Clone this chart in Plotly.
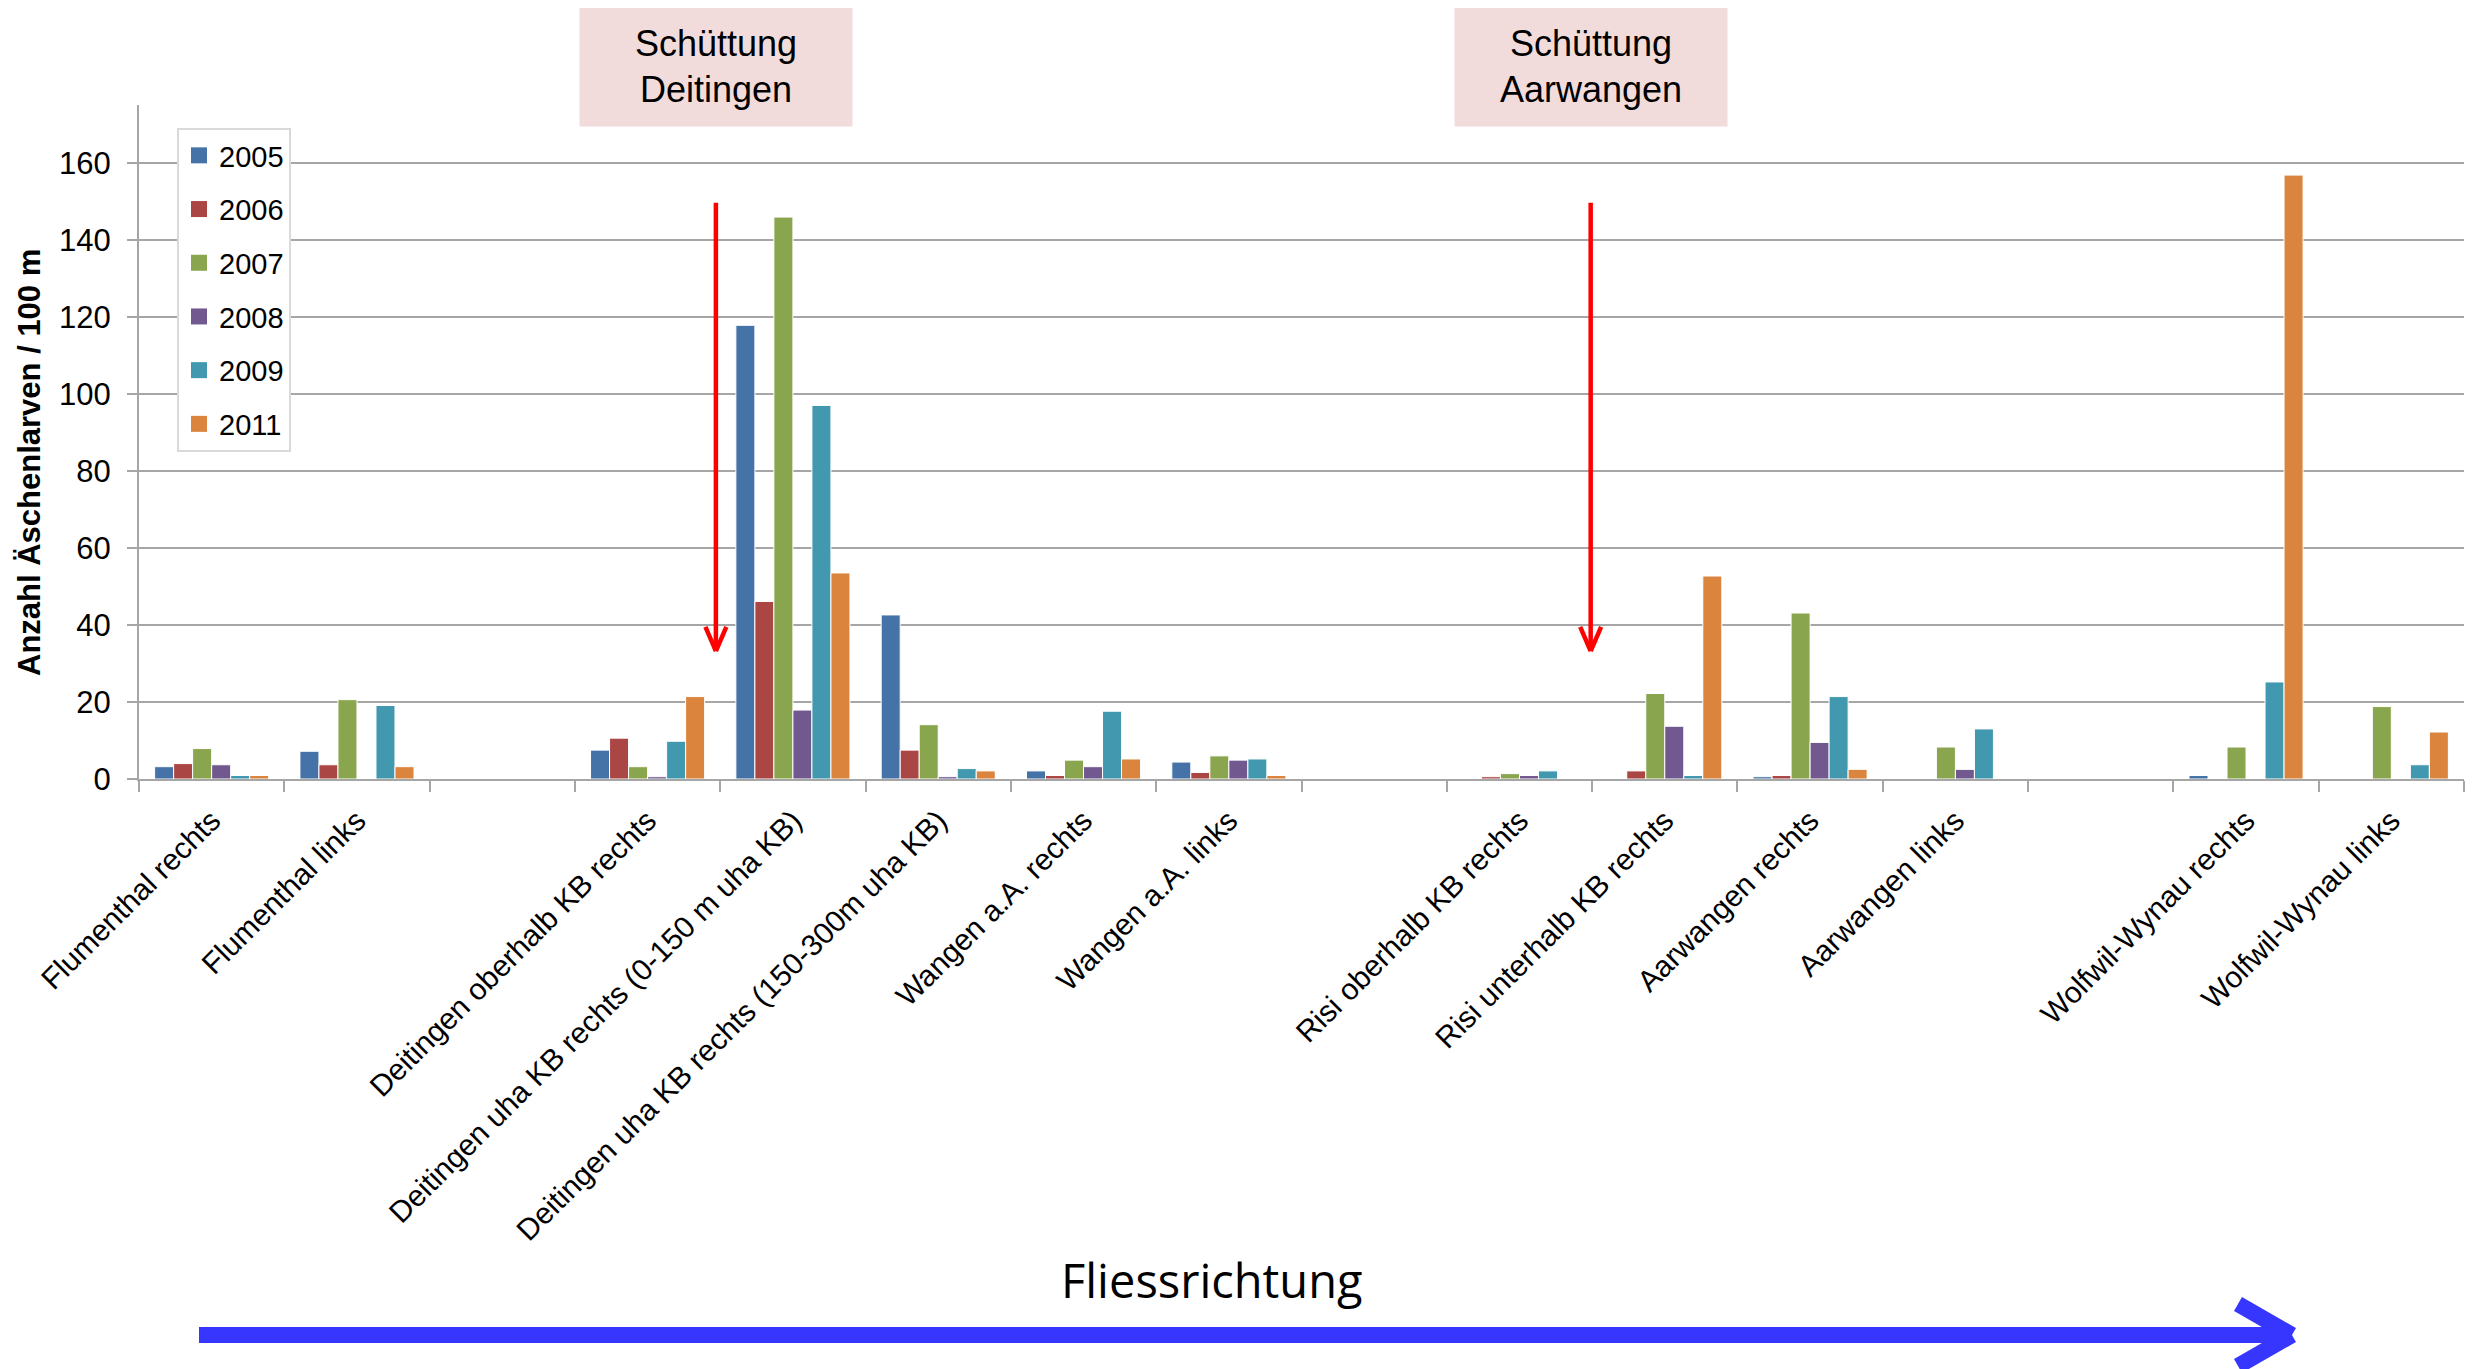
import plotly.graph_objects as go

# ---------------- data ----------------
categories = [
    "Flumenthal rechts", "Flumenthal links", " ",
    "Deitingen oberhalb KB rechts",
    "Deitingen uha KB rechts (0-150 m uha KB)",
    "Deitingen uha KB rechts (150-300m uha KB)",
    "Wangen a.A. rechts", "Wangen a.A. links", "  ",
    "Risi oberhalb KB rechts", "Risi unterhalb KB rechts",
    "Aarwangen rechts", "Aarwangen links", "   ",
    "Wolfwil-Wynau rechts", "Wolfwil-Wynau links",
]
years = ["2005", "2006", "2007", "2008", "2009", "2011"]
v2005 = [3.2, 7.2, None, 7.5, 117.8, 42.6, 2.1, 4.4, None, 0, 0, 0.6, 0, None, 0.9, 0]
v2006 = [4.0, 3.7, None, 10.6, 46.1, 7.5, 0.9, 1.7, None, 0.6, 2.1, 0.9, 0, None, 0, 0]
v2007 = [7.9, 20.6, None, 3.2, 145.9, 14.1, 4.9, 6.0, None, 1.4, 22.2, 43.1, 8.3, None, 8.3, 18.8]
v2008 = [3.7, 0, None, 0.6, 17.9, 0.6, 3.2, 4.9, None, 0.9, 13.7, 9.5, 2.5, None, 0, 0]
v2009 = [0.9, 19.1, None, 9.8, 97.0, 2.7, 17.6, 5.2, None, 2.1, 0.9, 21.4, 13.0, None, 25.2, 3.7]
v2011 = [0.9, 3.2, None, 21.4, 53.5, 2.1, 5.2, 0.9, None, 0, 52.7, 2.5, 0, None, 156.8, 12.2]
series = [v2005, v2006, v2007, v2008, v2009, v2011]
colors = ["#4572A7", "#AA4643", "#89A54E", "#71588F", "#4198AF", "#DB843D"]

y_ticks = [0, 20, 40, 60, 80, 100, 120, 140, 160]
y_title = "Anzahl Äschenlarven / 100 m"
events = [("Schüttung<br>Deitingen", 3.47), ("Schüttung<br>Aarwangen", 9.49)]

# ---------------- layout geometry (page pixels) ----------------
W, H = 2479, 1369
OFF = 8                      # default body margin of the html page
PX0, PX1, PY0, PY1 = 139, 2464, 105, 779   # plot area on the page
PW, PH = PX1 - PX0, PY1 - PY0
FW, FH = W - OFF, H - OFF


def px(xp):
    return (xp - PX0) / PW


def py(yp):
    return (PY1 - yp) / PH


FONT = "Liberation Sans, Arial, sans-serif"
xpos = list(range(len(categories)))

fig = go.Figure()
for name, vals, col in zip(years, series, colors):
    fig.add_trace(go.Bar(
        x=xpos, y=vals, name=name, legendgroup=name, showlegend=False,
        marker=dict(color=col, line=dict(color="white", width=1)),
    ))
# legend entries with larger square swatches
for name, col in zip(years, colors):
    fig.add_trace(go.Scatter(
        x=[None], y=[None], mode="markers", name=name, legendgroup=name,
        marker=dict(symbol="square", size=17, color=col), hoverinfo="skip",
    ))

shapes = []
annotations = []
# red arrows + labels
for text, xc in events:
    shapes.append(dict(type="line", xref="x", yref="y", x0=xc, x1=xc, y0=149.6, y1=33.8,
                       line=dict(color="#FF0000", width=4.5)))
    for dx in (-0.072, 0.072):
        shapes.append(dict(type="line", xref="x", yref="y", x0=xc + dx, x1=xc, y0=39.5, y1=33.2,
                           line=dict(color="#FF0000", width=4.5)))
    annotations.append(dict(
        xref="x", yref="paper", x=xc, y=py(66.5), text=text, showarrow=False,
        xanchor="center", yanchor="middle", bgcolor="#F2DCDB",
        width=272, height=119, borderpad=0, align="center",
        font=dict(family=FONT, size=36, color="#000000"),
    ))

# y-axis title
annotations.append(dict(
    xref="paper", yref="paper", x=px(29), y=py(463), text="<b>" + y_title + "</b>",
    showarrow=False, textangle=-90, xanchor="center", yanchor="middle",
    font=dict(family=FONT, size=31, color="#000000"),
))

# blue flow arrow
BLUE = "#3636FF"
shapes.append(dict(type="line", xref="paper", yref="paper", x0=px(199), x1=px(2284),
                   y0=py(1335), y1=py(1335), line=dict(color=BLUE, width=16)))
for ye in (1304, 1366):
    shapes.append(dict(type="line", xref="paper", yref="paper", x0=px(2238), x1=px(2292),
                       y0=py(ye), y1=py(1335), line=dict(color=BLUE, width=16)))
annotations.append(dict(
    xref="paper", yref="paper", x=px(1212), y=py(1280), text="Fliessrichtung",
    showarrow=False, xanchor="center", yanchor="middle",
    font=dict(family="Open Sans, sans-serif", size=47, color="#000000"),
))

fig.update_layout(
    width=FW, height=FH,
    margin=dict(l=PX0 - OFF, r=FW - (PX1 - OFF), t=PY0 - OFF, b=FH - (PY1 - OFF),
                autoexpand=False),
    paper_bgcolor="white", plot_bgcolor="white",
    barmode="group", bargap=0.215, bargroupgap=0,
    font=dict(family=FONT, size=29, color="#000000"),
    showlegend=True,
    legend=dict(
        x=px(177), y=py(128), xanchor="left", yanchor="top",
        bgcolor="white", bordercolor="#D9D9D9", borderwidth=2,
        font=dict(family=FONT, size=29, color="#000000"),
        traceorder="grouped", tracegroupgap=13, itemwidth=30,
    ),
    xaxis=dict(
        range=[-0.5, len(categories) - 0.5],
        tickmode="array", tickvals=xpos, ticktext=[c.strip() for c in categories],
        tickangle=-45, ticks="", ticklabelstandoff=10,
        tickfont=dict(family=FONT, size=30, color="#000000"),
        showline=True, linecolor="#A6A6A6", linewidth=2,
        showgrid=False, zeroline=False,
        minor=dict(tick0=-0.5, dtick=1, ticks="outside", ticklen=11,
                   tickcolor="#A6A6A6", tickwidth=2, showgrid=False),
    ),
    yaxis=dict(
        range=[0, 175], tickmode="array", tickvals=y_ticks,
        ticks="outside", ticklen=10, tickcolor="#A6A6A6", tickwidth=2,
        ticklabelstandoff=10,
        tickfont=dict(family=FONT, size=31, color="#000000"),
        showline=True, linecolor="#A6A6A6", linewidth=2,
        showgrid=True, gridcolor="#A6A6A6", gridwidth=2, zeroline=False,
    ),
    shapes=shapes,
    annotations=annotations,
)

fig.write_html("out.html")
